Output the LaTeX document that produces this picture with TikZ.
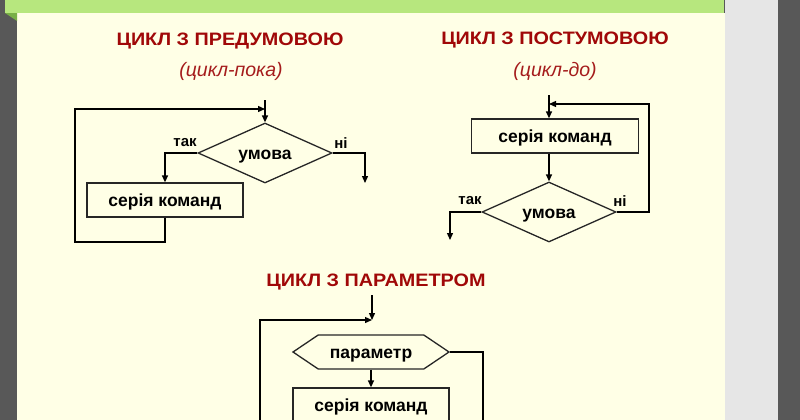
\documentclass[tikz,border=0pt]{standalone}
\usepackage{fontspec}
\setmainfont{Liberation Sans}
\usetikzlibrary{shapes.geometric, shapes.symbols, arrows.meta, positioning}
\definecolor{cream}{RGB}{255,255,230}
\definecolor{titlered}{RGB}{160,8,8}
\definecolor{subred}{RGB}{165,28,28}
\definecolor{bargreen}{RGB}{183,231,126}
\definecolor{bardark}{RGB}{120,175,70}
\definecolor{sidedark}{RGB}{88,88,88}
\definecolor{sidelight}{RGB}{230,230,230}
\tikzstyle{arrow} = [line width=1.3pt, -{Triangle[length=7pt,width=6pt]}]
\tikzstyle{line} = [line width=1.3pt]

\begin{document}
\begin{tikzpicture}[x=1pt, y=-1pt,
    cmdbox/.style={rectangle, draw=black!85, line width=1.3pt, minimum width=156pt, minimum height=34pt, inner sep=0pt, text height=12pt, text depth=0pt, font=\fontsize{17.5}{20}\selectfont\bfseries},
    condbox/.style={diamond, aspect=2.2, draw=black!85, line width=1.3pt, minimum width=134pt, minimum height=60pt, inner sep=0pt, text height=12pt, text depth=0pt, font=\fontsize{17.5}{20}\selectfont\bfseries},
    parambox/.style={signal, signal to=east and west, signal pointer angle=68, draw=black!85, line width=1.3pt, minimum width=156pt, minimum height=34pt, inner sep=0pt, text height=12pt, text depth=0pt, font=\fontsize{17.5}{20}\selectfont\bfseries},
    heading/.style={font=\fontsize{18}{21}\selectfont\bfseries, text=titlered, xscale=1.1},
    subheading/.style={font=\fontsize{19.5}{22}\selectfont\itshape, text=subred},
    branch/.style={font=\fontsize{15}{17}\selectfont\bfseries},
]
\useasboundingbox (0,0) rectangle (800,420);
\clip (0,0) rectangle (800,420);

% Slide background
\fill[sidedark] (0,0) rectangle (800,420);
\fill[sidelight] (725,0) rectangle (778,420);
\fill[cream] (17,13) rectangle (725,420);
\fill[bardark] (5,13) -- (17,13) -- (17,21) -- cycle;
\fill[bargreen] (5,0) rectangle (724,13);

% Loop with precondition
\node[heading] (title1) at (230,41) {ЦИКЛ З ПРЕДУМОВОЮ};
\node[subheading] (sub1) at (231,71) {(цикл-пока)};
\node[condbox] (cond1) at (265,153) {умова};
\node[cmdbox] (body1) at (165,200) {серія команд};
\node[branch] (yes1) at (185,143) {так};
\node[branch] (no1) at (341,143) {ні};
\coordinate (entry1) at (265,100);
\coordinate (top1) at (265,109);
\coordinate (back1) at (75,242);
\coordinate (exit1) at (365,183);

\draw[arrow] (entry1) -- (cond1.north);
\draw[arrow] (cond1.west) -| (body1.north);
\draw[arrow] (cond1.east) -| (exit1);
\draw[arrow] (body1.south) |- (back1) |- (top1);

% Loop with postcondition
\node[heading] (title2) at (555,40) {ЦИКЛ З ПОСТУМОВОЮ};
\node[subheading] (sub2) at (555,71) {(цикл-до)};
\node[cmdbox, minimum width=167pt] (body2) at (555,136) {серія команд};
\node[condbox] (cond2) at (549,212) {умова};
\node[branch] (yes2) at (470,201) {так};
\node[branch] (no2) at (620,201) {ні};
\coordinate (entry2) at (549,95);
\coordinate (back2) at (649,104);
\coordinate (exit2) at (450,240);

\draw[arrow] (entry2) -- (entry2 |- body2.north);
\draw[arrow] (cond2.north |- body2.south) -- (cond2.north);
\draw[arrow] (cond2.west) -| (exit2);
\draw[arrow] (cond2.east) -| (back2) -- (back2 -| entry2);

% Loop with parameter
\node[heading] (title3) at (376,282) {ЦИКЛ З ПАРАМЕТРОМ};
\node[parambox] (param) at (371,352) {параметр};
\node[cmdbox] (body3) at (371,405) {серія команд};
\coordinate (entry3) at (372,295);
\coordinate (top3) at (372,320);
\coordinate (low3) at (260,440);
\coordinate (out3) at (483,440);

\draw[arrow] (entry3) -- (top3);
\draw[arrow] (low3) |- (top3);
\draw[arrow] (param.south) -- (body3.north);
\draw[line] (param.east) -| (out3);

\end{tikzpicture}
\end{document}
